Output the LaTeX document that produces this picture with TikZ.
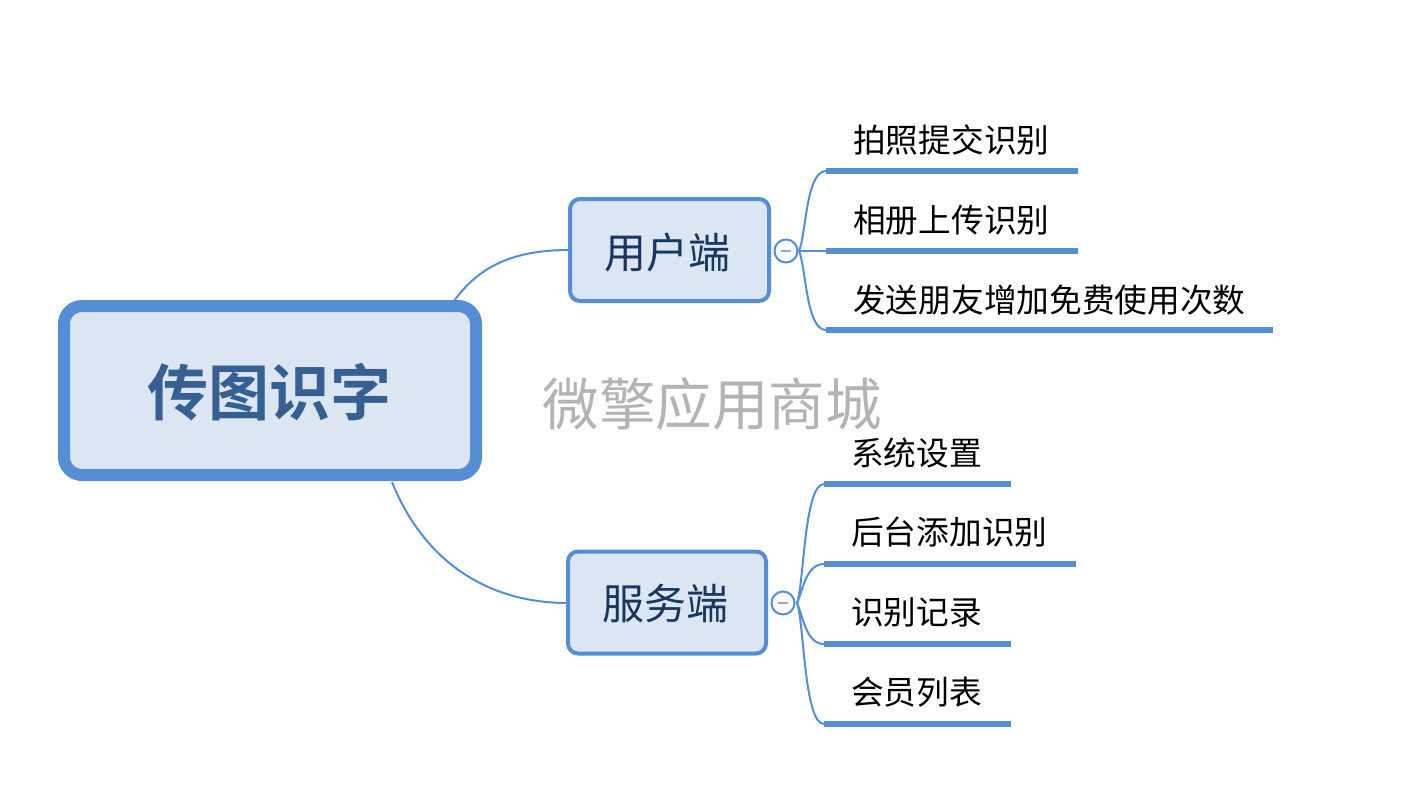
\documentclass[tikz,border=0pt]{standalone}
\usepackage{fontspec}
\newfontfamily\cjk{Noto Sans CJK SC}
\newfontfamily\cjkbold{Noto Sans CJK SC}[BoldFont={* Bold}]
\definecolor{edge}{HTML}{558ED5}
\definecolor{boxfill}{HTML}{DCE6F2}
\definecolor{roottext}{HTML}{376092}
\definecolor{subtext}{HTML}{17375E}
\definecolor{wmark}{HTML}{B4B4B4}
\definecolor{minus}{HTML}{9AA6D4}
\tikzset{
  rootbox/.style={draw=edge, fill=boxfill, line width=12pt, rounded corners=18pt, minimum width=412pt, minimum height=169pt, inner sep=0pt},
  subbox/.style={draw=edge, fill=boxfill, line width=4pt, rounded corners=10pt, minimum height=102pt, inner sep=0pt},
  toggle/.style={circle, draw=edge, fill=white, line width=2pt, minimum size=23pt, inner sep=0pt},
  leaf/.style={anchor=base west, inner sep=0pt, font=\cjk\fontsize{32.7}{32.7}\selectfont, text=black},
  bar/.style={draw=edge, line width=6pt},
  link/.style={draw=edge, line width=2pt},
}
\begin{document}
\begin{tikzpicture}[x=1pt,y=-1pt]
\useasboundingbox[fill=white] (0,0) rectangle (1423,809);

% watermark
\node[font=\cjk\fontsize{56.5}{56.5}\selectfont, text=wmark, inner sep=0pt] (wm) at (712,404) {微擎应用商城};

% connectors from root
\coordinate (rU) at (454,301);
\coordinate (rS) at (392,482);
\draw[link] (rU) .. controls (482,262) and (520,250) .. (570,250);
\draw[link] (rS) .. controls (420,552) and (478,603) .. (568,603);

% root
\node[rootbox] (root) at (270,390.5) {};
\node[font=\cjkbold\bfseries\fontsize{61}{61}\selectfont, text=roottext, inner sep=0pt, anchor=base] (roott) at (269,415) {传图识字};

% sub nodes
\node[subbox, minimum width=199pt] (user) at (669.5,250) {};
\node[font=\cjk\fontsize{42}{42}\selectfont, text=subtext, inner sep=0pt, anchor=base] (usert) at (667,268) {用户端};
\node[subbox, minimum width=198pt] (server) at (667,602.5) {};
\node[font=\cjk\fontsize{42}{42}\selectfont, text=subtext, inner sep=0pt, anchor=base] (servert) at (665,619) {服务端};

% toggles
\node[toggle] (t1) at (786,251) {};
\draw[minus, line width=2pt] ([xshift=-5pt]t1.center) -- ([xshift=5pt]t1.center);
\node[toggle] (t2) at (783,603) {};
\draw[minus, line width=2pt] ([xshift=-5pt]t2.center) -- ([xshift=5pt]t2.center);

% user branch
\coordinate (j1) at (799,251);
\coordinate (a1) at (826,171); \coordinate (a1e) at (1078,171);
\coordinate (a2) at (826,251); \coordinate (a2e) at (1078,251);
\coordinate (a3) at (826,330); \coordinate (a3e) at (1273,330);
\draw[link] (t1.east) -- (j1);
\draw[link] (j1) .. controls (806,235) and (806,171) .. (a1);
\draw[link] (j1) -- (a2);
\draw[link] (j1) .. controls (806,267) and (806,330) .. (a3);
\draw[bar] (a1) -- (a1e);
\draw[bar] (a2) -- (a2e);
\draw[bar] (a3) -- (a3e);
\node[leaf] (u1) at (853,152) {拍照提交识别};
\node[leaf] (u2) at (853,232) {相册上传识别};
\node[leaf] (u3) at (853,312) {发送朋友增加免费使用次数};

% server branch
\coordinate (j2) at (797,603);
\coordinate (b1) at (824,484); \coordinate (b1e) at (1011,484);
\coordinate (b2) at (824,564); \coordinate (b2e) at (1076,564);
\coordinate (b3) at (824,644); \coordinate (b3e) at (1011,644);
\coordinate (b4) at (824,724); \coordinate (b4e) at (1011,724);
\draw[link] (t2.east) -- (j2);
\draw[link] (j2) .. controls (804,585) and (804,484) .. (b1);
\draw[link] (j2) .. controls (803,590) and (806,564) .. (b2);
\draw[link] (j2) .. controls (803,616) and (806,644) .. (b3);
\draw[link] (j2) .. controls (804,621) and (804,724) .. (b4);
\draw[bar] (b1) -- (b1e);
\draw[bar] (b2) -- (b2e);
\draw[bar] (b3) -- (b3e);
\draw[bar] (b4) -- (b4e);
\node[leaf] (s1) at (851,465) {系统设置};
\node[leaf] (s2) at (851,544) {后台添加识别};
\node[leaf] (s3) at (851,624) {识别记录};
\node[leaf] (s4) at (851,704) {会员列表};
\end{tikzpicture}
\end{document}
